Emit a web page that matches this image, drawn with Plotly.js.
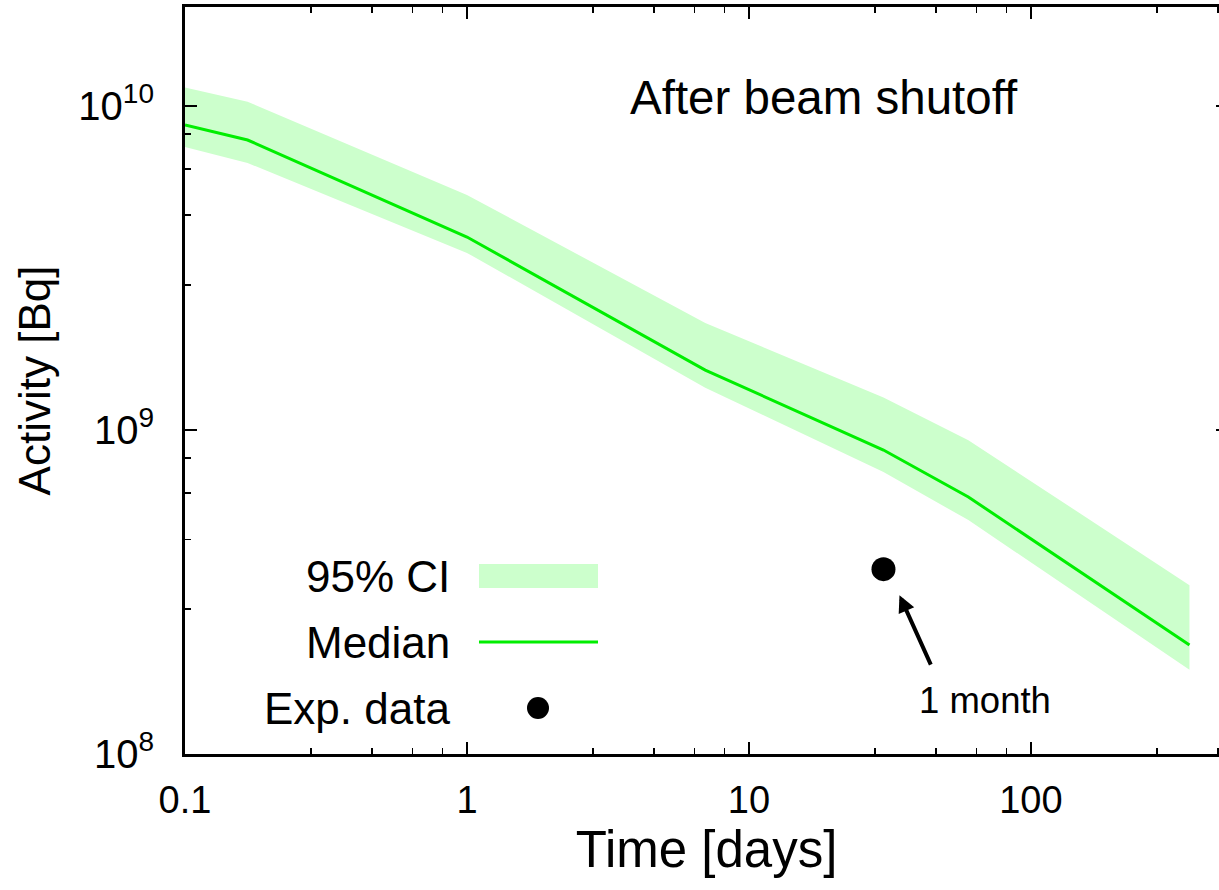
<!DOCTYPE html>
<html>
<head>
<meta charset="utf-8">
<script src="https://cdn.plot.ly/plotly-3.0.1.min.js"></script>
<style>
html,body{margin:0;padding:0;overflow:hidden;background:#fff;}
#chart{width:1240px;height:890px;}
</style>
</head>
<body>
<div id="chart"></div>
<script>
// Time points (days) and activities (Bq)
const timeDays   = [0.1, 0.1667, 1, 7, 30, 60, 365];
const medianBq   = [8.74e9, 7.85e9, 3.94e9, 1.53e9, 8.67e8, 6.21e8, 2.17e8];
const ciUpperBq  = [1.14e10, 1.03e10, 5.31e9, 2.14e9, 1.26e9, 9.3e8, 3.32e8];
const ciLowerBq  = [7.47e9, 6.67e9, 3.52e9, 1.35e9, 7.42e8, 5.27e8, 1.82e8];
const expTime    = [30];
const expBq      = [3.72e8];

const xTickVals  = [0.1, 1, 10, 100];
const xTickText  = ['0.1', '1', '10', '100'];
const yTickVals  = [1e8, 1e9, 1e10];
const yTickText  = ['10<sup>8</sup>', '10<sup>9</sup>', '10<sup>10</sup>'];
const xMinorVals = [0.28, 0.46, 0.64, 0.82, 2.8, 4.6, 6.4, 8.2, 28, 46, 64, 82, 280, 460];
const yMinorVals = [2.8e8, 4.6e8, 6.4e8, 8.2e8, 2.8e9, 4.6e9, 6.4e9, 8.2e9];

const legendLabels = ['95% CI', 'Median', 'Exp. data'];

const FONT = 'Liberation Sans, Arial, Helvetica, sans-serif';
const BAND = '#ccffcc';
const LINE = '#00ee00';

const W = 1240, H = 890, L = 185, R = 12, T = 7, B = 136;
const pw = W - L - R, ph = H - T - B;
const px = v => (v - L) / pw;
const py = v => (H - B - v) / ph;

const traces = [
  {x: timeDays, y: ciLowerBq, type: 'scatter', mode: 'lines', line: {width: 0, color: BAND}, showlegend: false, hoverinfo: 'skip'},
  {x: timeDays, y: ciUpperBq, type: 'scatter', mode: 'lines', line: {width: 0, color: BAND}, fill: 'tonexty', fillcolor: BAND, showlegend: false, name: legendLabels[0]},
  {x: timeDays, y: medianBq, type: 'scatter', mode: 'lines', line: {width: 3, color: LINE}, showlegend: false, name: legendLabels[1]},
  {x: expTime, y: expBq, type: 'scatter', mode: 'markers', marker: {size: 24, color: '#000'}, showlegend: false, name: legendLabels[2]}
];

const axisCommon = {
  type: 'log', showgrid: false, zeroline: false,
  showline: true, linecolor: '#000', linewidth: 3, mirror: 'ticks',
  ticks: 'inside', ticklen: 12, tickwidth: 1.5, tickcolor: '#000',
  tickmode: 'array'
};

const legendY = [576, 642, 708];
const annotations = [
  {xref: 'paper', yref: 'paper', x: px(824), y: py(97), text: 'After beam shutoff', showarrow: false,
   font: {family: FONT, size: 47.5, color: '#000'}, xanchor: 'center', yanchor: 'middle'},
  {xref: 'paper', yref: 'paper', x: px(985), y: py(700), text: '1 month', showarrow: false,
   font: {family: FONT, size: 36.5, color: '#000'}, xanchor: 'center', yanchor: 'middle'},
  {x: Math.log10(expTime[0]), y: Math.log10(expBq[0]), xref: 'x', yref: 'y', text: '',
   showarrow: true, arrowhead: 2, arrowsize: 0.85, arrowwidth: 4, arrowcolor: '#000',
   xshift: 16, yshift: -26, ax: 32, ay: 71}
];
legendLabels.forEach((lab, i) => {
  annotations.push({xref: 'paper', yref: 'paper', x: px(452), y: py(legendY[i]), text: lab, showarrow: false,
    xanchor: 'right', yanchor: 'middle', font: {family: FONT, size: 44, color: '#000'}});
});

const shapes = [
  {type: 'rect', xref: 'paper', yref: 'paper', x0: px(479), x1: px(598), y0: py(588), y1: py(564),
   fillcolor: BAND, line: {width: 0}},
  {type: 'line', xref: 'paper', yref: 'paper', x0: px(479), x1: px(598), y0: py(642), y1: py(642),
   line: {color: LINE, width: 3}},
  {type: 'circle', xref: 'paper', yref: 'paper', x0: px(527), x1: px(549), y0: py(697), y1: py(719),
   fillcolor: '#000', line: {width: 0}}
];

const layout = {
  width: W, height: H,
  margin: {l: L, r: R, t: T, b: B, pad: 0},
  paper_bgcolor: '#fff', plot_bgcolor: '#fff',
  showlegend: false,
  xaxis: Object.assign({}, axisCommon, {
    range: [-1, Math.log10(500)],
    tickvals: xTickVals, ticktext: xTickText,
    tickfont: {family: FONT, size: 38, color: '#000'},
    ticklabelstandoff: 10,
    minor: {tickmode: 'array', tickvals: xMinorVals, ticks: 'inside', ticklen: 6, tickwidth: 1.5, tickcolor: '#000'},
    title: {text: 'Time [days]', font: {family: FONT, size: 51, color: '#000'}, standoff: 0}
  }),
  yaxis: Object.assign({}, axisCommon, {
    range: [8, Math.log10(2.02e10)],
    tickvals: yTickVals, ticktext: yTickText,
    tickfont: {family: FONT, size: 40, color: '#000'},
    ticklabelstandoff: 20,
    minor: {tickmode: 'array', tickvals: yMinorVals, ticks: 'inside', ticklen: 6, tickwidth: 1.5, tickcolor: '#000'},
    title: {text: 'Activity [Bq]', font: {family: FONT, size: 44, color: '#000'}, standoff: 14}
  }),
  annotations: annotations,
  shapes: shapes
};

Plotly.newPlot('chart', traces, layout, {displayModeBar: false, staticPlot: true});
</script>
</body>
</html>
